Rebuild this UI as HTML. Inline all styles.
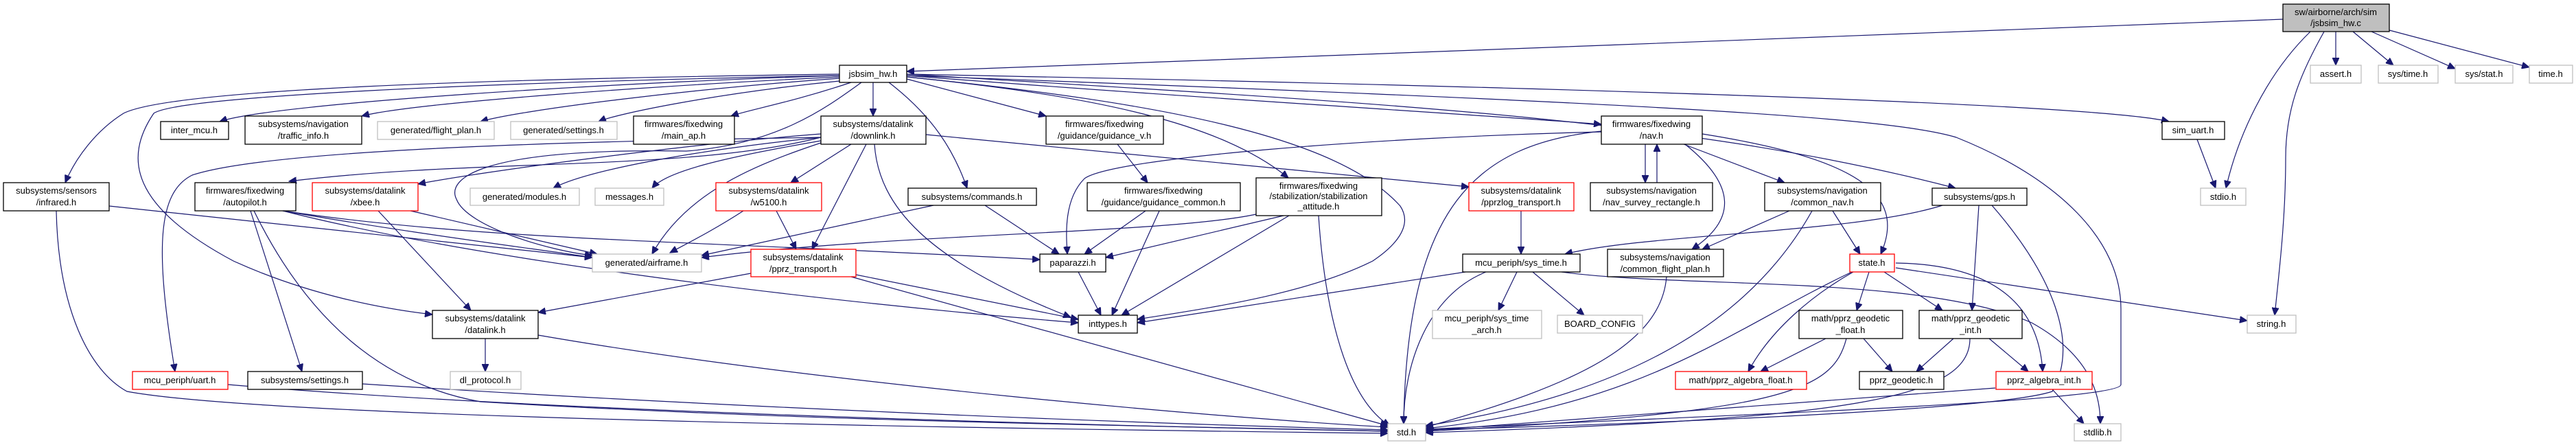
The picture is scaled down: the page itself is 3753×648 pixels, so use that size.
<!DOCTYPE html>
<html><head><meta charset="utf-8"><style>
html,body{margin:0;padding:0;background:#fff;}
svg{display:block;}
text{font-family:"Liberation Sans",sans-serif;font-size:13px;fill:#000;text-anchor:middle;}
.e{fill:none;stroke:#191970;stroke-width:1.2;marker-end:url(#a);}
.n{fill:#fff;stroke:#000;stroke-width:1.3;}
.g{fill:#fff;stroke:#bfbfbf;stroke-width:1.3;}
.r{fill:#fff;stroke:#ff0000;stroke-width:1.3;}
</style></head><body>
<svg width="3753" height="648" viewBox="0 0 3753 648" xmlns="http://www.w3.org/2000/svg">
<defs><marker id="a" markerUnits="userSpaceOnUse" markerWidth="12" markerHeight="10" refX="11" refY="5" orient="auto"><path d="M0,0 L11,5 L0,10 z" fill="#191970" stroke="#191970"/></marker></defs>
<g>
<!-- jsbsim_hw.c -->
<path class="e" d="M3326,28 C2800,50 1800,85 1321,104"/>
<path class="e" d="M3403,46 L3403,95"/>
<path class="e" d="M3428,46 L3487,95"/>
<path class="e" d="M3455,46 L3577,100"/>
<path class="e" d="M3481,44 L3685,98"/>
<path class="e" d="M3366,46 C3300,110 3260,200 3243,274"/>
<path class="e" d="M3386,46 C3350,110 3330,160 3330,230 C3330,320 3320,400 3314,459"/>
<!-- jsbsim_hw.h -->
<path class="e" d="M1223,110 C900,120 400,150 320,177"/>
<path class="e" d="M1223,112 C950,125 600,150 527,169"/>
<path class="e" d="M1223,114 C1000,130 760,160 700,177"/>
<path class="e" d="M1223,118 C1050,135 900,165 872,177"/>
<path class="e" d="M1240,120 C1150,150 1090,160 1065,169"/>
<path class="e" d="M1223,108 C700,115 250,130 180,165 C140,190 110,230 95,266"/>
<path class="e" d="M1223,110 C700,120 260,140 224,165 C180,230 190,300 340,380 C450,430 560,450 630,458"/>
<path class="e" d="M1272,120 L1272,169"/>
<path class="e" d="M1295,120 C1360,170 1390,220 1409,274"/>
<path class="e" d="M1321,115 L1524,169"/>
<path class="e" d="M1321,112 C1600,140 1780,180 1877,259"/>
<path class="e" d="M1321,110 C1700,140 2200,170 2333,181"/>
<path class="e" d="M1321,108 C2000,150 2450,170 2849,274"/>
<path class="e" d="M1321,108 C2200,125 3050,150 3160,177"/>
<path class="e" d="M1321,110 C2400,150 2750,170 2850,200 C3000,260 3090,350 3090,450 L3090,560 C3090,585 2500,605 2077,625"/>
<path class="e" d="M1321,112 C1700,150 1950,200 2040,300 C2060,330 2030,360 2000,380 C1900,430 1750,450 1657,465"/>
<path class="e" d="M1255,120 C1200,160 1130,210 1000,220 C700,215 650,260 665,290 C680,330 800,365 863,372"/>
<!-- downlink.h -->
<path class="e" d="M1240,210 L1152,266"/>
<path class="e" d="M1262,210 L1183,363"/>
<path class="e" d="M1274,210 C1280,300 1350,380 1560,462"/>
<path class="e" d="M1349,196 C1700,230 2000,260 2140,272"/>
<path class="e" d="M1196,208 C1100,240 1000,280 950,370"/>
<path class="e" d="M1196,200 C1000,220 850,250 806,274"/>
<path class="e" d="M1196,205 C1050,230 970,250 950,274"/>
<path class="e" d="M1196,195 C1000,210 700,250 609,268"/>
<path class="e" d="M1196,200 C1000,250 700,230 421,264"/>
<path class="e" d="M1196,200 C900,205 400,215 280,255 C230,280 225,360 255,541"/>
<!-- autopilot -->
<path class="e" d="M365,307 L440,541"/>
<path class="e" d="M370,307 C450,470 560,560 700,585 C1200,615 1700,620 2022,628"/>
<path class="e" d="M412,307 C600,340 800,365 863,375"/>
<path class="e" d="M412,307 C700,380 1200,440 1571,470"/>
<path class="e" d="M412,307 C700,350 1000,350 1515,378"/>
<!-- infrared -->
<path class="e" d="M159,300 L863,375"/>
<path class="e" d="M82,307 C85,450 130,540 185,570 C400,610 1500,625 2022,631"/>
<!-- xbee / w5100 -->
<path class="e" d="M551,307 L686,452"/>
<path class="e" d="M598,307 L870,370"/>
<path class="e" d="M1131,307 L1160,363"/>
<path class="e" d="M1083,307 C1040,335 1000,355 976,368"/>
<!-- pprz_transport -->
<path class="e" d="M1094,398 L784,455"/>
<path class="e" d="M1247,400 L1571,465"/>
<path class="e" d="M1240,403 L2022,620"/>
<!-- commands, guidance, stabilization -->
<path class="e" d="M1360,299 L1022,372"/>
<path class="e" d="M1435,299 L1543,370"/>
<path class="e" d="M1628,210 L1672,266"/>
<path class="e" d="M1669,307 L1580,370"/>
<path class="e" d="M1689,307 L1620,459"/>
<path class="e" d="M1870,314 L1611,375"/>
<path class="e" d="M1878,314 L1634,459"/>
<path class="e" d="M1921,314 C1930,450 1960,580 2025,620"/>
<path class="e" d="M1830,312 C1700,340 1300,340 1022,375"/>
<path class="e" d="M1571,396 L1604,459"/>
<!-- nav.h -->
<path class="e" d="M2397,210 L2397,266"/>
<path class="e" d="M2414,266 L2414,210"/>
<path class="e" d="M2453,210 L2600,266"/>
<path class="e" d="M2455,210 C2530,270 2530,320 2465,363"/>
<path class="e" d="M2480,195 C2700,230 2780,280 2740,370"/>
<path class="e" d="M2333,191 C2150,210 2050,300 2045,617"/>
<path class="e" d="M2333,192 C2000,200 1620,230 1580,260 C1550,290 1553,340 1555,370"/>
<!-- common_nav -->
<path class="e" d="M2607,307 L2480,363"/>
<path class="e" d="M2670,307 L2710,370"/>
<path class="e" d="M2640,307 C2560,450 2400,570 2077,620"/>
<path class="e" d="M2216,307 L2216,370"/>
<!-- gps -->
<path class="e" d="M2830,299 C2700,340 2400,340 2280,370"/>
<path class="e" d="M2883,299 L2873,452"/>
<path class="e" d="M2902,299 C2990,400 3030,500 2990,570 C2900,600 2300,620 2077,626"/>
<!-- sys_time -->
<path class="e" d="M2210,396 L2183,452"/>
<path class="e" d="M2233,396 L2308,459"/>
<path class="e" d="M2165,396 C2080,430 2045,530 2045,617"/>
<path class="e" d="M2135,396 L1657,470"/>
<path class="e" d="M2275,396 C2450,420 2800,400 2960,470 C3050,520 3060,580 3060,617"/>
<path class="e" d="M2428,403 C2420,500 2300,560 2077,622"/>
<!-- state -->
<path class="e" d="M2723,396 L2705,452"/>
<path class="e" d="M2745,396 L2830,452"/>
<path class="e" d="M2700,396 C2640,430 2580,480 2547,541"/>
<path class="e" d="M2762,383 C2900,385 2970,440 2976,541"/>
<path class="e" d="M2698,396 C2520,480 2400,590 2077,624"/>
<path class="e" d="M2762,390 L3274,467"/>
<!-- geodetic -->
<path class="e" d="M2660,493 L2565,541"/>
<path class="e" d="M2715,493 L2757,541"/>
<path class="e" d="M2690,493 C2670,570 2600,600 2077,628"/>
<path class="e" d="M2846,493 L2792,541"/>
<path class="e" d="M2898,493 L2955,541"/>
<path class="e" d="M2870,493 C2870,580 2700,610 2077,630"/>
<path class="e" d="M2990,567 L3036,617"/>
<path class="e" d="M2907,565 L2077,627"/>
<!-- misc -->
<path class="e" d="M3201,203 L3228,274"/>
<path class="e" d="M707,493 L707,541"/>
<path class="e" d="M784,488 C1200,560 1800,610 2022,622"/>
<path class="e" d="M332,560 C800,600 1600,620 2022,628"/>
<path class="e" d="M528,559 C1000,590 1600,615 2022,626"/>
</g>
<g>
<rect x="3326" y="6" width="155" height="40" fill="#bfbfbf" stroke="#000" stroke-width="1.3"/><text x="3403" y="22">sw/airborne/arch/sim</text><text x="3403" y="38">/jsbsim_hw.c</text>
<rect class="g" x="3366" y="95" width="74" height="26"/><text x="3403" y="112">assert.h</text>
<rect class="g" x="3465" y="95" width="87" height="26"/><text x="3508" y="112">sys/time.h</text>
<rect class="g" x="3577" y="95" width="84" height="26"/><text x="3619" y="112">sys/stat.h</text>
<rect class="g" x="3685" y="95" width="63" height="26"/><text x="3716" y="112">time.h</text>
<rect class="n" x="3150" y="177" width="91" height="26"/><text x="3195" y="194">sim_uart.h</text>
<rect class="g" x="3206" y="274" width="66" height="25"/><text x="3239" y="291">stdio.h</text>
<rect class="g" x="3274" y="459" width="71" height="26"/><text x="3309" y="476">string.h</text>
<rect class="g" x="3022" y="617" width="68" height="25"/><text x="3056" y="634">stdlib.h</text>

<rect class="n" x="1223" y="95" width="98" height="25"/><text x="1272" y="112">jsbsim_hw.h</text>
<rect class="n" x="234" y="177" width="99" height="26"/><text x="283" y="194">inter_mcu.h</text>
<rect class="n" x="357" y="169" width="170" height="41"/><text x="442" y="185">subsystems/navigation</text><text x="442" y="202">/traffic_info.h</text>
<rect class="g" x="550" y="177" width="170" height="26"/><text x="635" y="194">generated/flight_plan.h</text>
<rect class="g" x="744" y="177" width="155" height="26"/><text x="821" y="194">generated/settings.h</text>
<rect class="n" x="923" y="169" width="147" height="41"/><text x="996" y="185">firmwares/fixedwing</text><text x="996" y="202">/main_ap.h</text>
<rect class="n" x="1196" y="169" width="153" height="41"/><text x="1272" y="185">subsystems/datalink</text><text x="1272" y="202">/downlink.h</text>
<rect class="n" x="1524" y="169" width="171" height="41"/><text x="1609" y="185">firmwares/fixedwing</text><text x="1609" y="202">/guidance/guidance_v.h</text>
<rect class="n" x="2333" y="169" width="147" height="41"/><text x="2406" y="185">firmwares/fixedwing</text><text x="2406" y="202">/nav.h</text>

<rect class="n" x="5" y="266" width="154" height="41"/><text x="82" y="282">subsystems/sensors</text><text x="82" y="299">/infrared.h</text>
<rect class="n" x="284" y="266" width="147" height="41"/><text x="357" y="282">firmwares/fixedwing</text><text x="357" y="299">/autopilot.h</text>
<rect class="r" x="455" y="266" width="154" height="41"/><text x="532" y="282">subsystems/datalink</text><text x="532" y="299">/xbee.h</text>
<rect class="g" x="685" y="274" width="159" height="25"/><text x="764" y="291">generated/modules.h</text>
<rect class="g" x="867" y="274" width="100" height="25"/><text x="917" y="291">messages.h</text>
<rect class="r" x="1043" y="266" width="154" height="41"/><text x="1120" y="282">subsystems/datalink</text><text x="1120" y="299">/w5100.h</text>
<rect class="n" x="1323" y="274" width="187" height="25"/><text x="1416" y="291">subsystems/commands.h</text>
<rect class="n" x="1584" y="266" width="223" height="41"/><text x="1695" y="282">firmwares/fixedwing</text><text x="1695" y="299">/guidance/guidance_common.h</text>
<rect class="n" x="1830" y="259" width="183" height="55"/><text x="1921" y="275">firmwares/fixedwing</text><text x="1921" y="290">/stabilization/stabilization</text><text x="1921" y="305">_attitude.h</text>
<rect class="r" x="2140" y="266" width="153" height="41"/><text x="2216" y="282">subsystems/datalink</text><text x="2216" y="299">/pprzlog_transport.h</text>
<rect class="n" x="2317" y="266" width="178" height="41"/><text x="2406" y="282">subsystems/navigation</text><text x="2406" y="299">/nav_survey_rectangle.h</text>
<rect class="n" x="2571" y="266" width="169" height="41"/><text x="2655" y="282">subsystems/navigation</text><text x="2655" y="299">/common_nav.h</text>
<rect class="n" x="2815" y="274" width="138" height="25"/><text x="2884" y="291">subsystems/gps.h</text>

<rect class="g" x="863" y="370" width="159" height="26"/><text x="942" y="387">generated/airframe.h</text>
<rect class="r" x="1094" y="363" width="153" height="40"/><text x="1170" y="379">subsystems/datalink</text><text x="1170" y="396">/pprz_transport.h</text>
<rect class="n" x="1515" y="370" width="96" height="26"/><text x="1563" y="387">paparazzi.h</text>
<rect class="n" x="2131" y="370" width="171" height="26"/><text x="2216" y="387">mcu_periph/sys_time.h</text>
<rect class="n" x="2342" y="363" width="169" height="40"/><text x="2426" y="379">subsystems/navigation</text><text x="2426" y="396">/common_flight_plan.h</text>
<rect class="r" x="2695" y="370" width="65" height="26"/><text x="2727" y="387">state.h</text>

<rect class="n" x="630" y="452" width="154" height="41"/><text x="707" y="468">subsystems/datalink</text><text x="707" y="485">/datalink.h</text>
<rect class="n" x="1571" y="459" width="86" height="26"/><text x="1614" y="476">inttypes.h</text>
<rect class="g" x="2087" y="452" width="159" height="41"/><text x="2166" y="468">mcu_periph/sys_time</text><text x="2166" y="485">_arch.h</text>
<rect class="g" x="2269" y="459" width="124" height="26"/><text x="2331" y="476">BOARD_CONFIG</text>
<rect class="n" x="2621" y="452" width="151" height="41"/><text x="2696" y="468">math/pprz_geodetic</text><text x="2696" y="485">_float.h</text>
<rect class="n" x="2796" y="452" width="150" height="41"/><text x="2871" y="468">math/pprz_geodetic</text><text x="2871" y="485">_int.h</text>

<rect class="r" x="193" y="541" width="139" height="26"/><text x="262" y="558">mcu_periph/uart.h</text>
<rect class="n" x="361" y="541" width="167" height="26"/><text x="444" y="558">subsystems/settings.h</text>
<rect class="g" x="656" y="541" width="103" height="26"/><text x="707" y="558">dl_protocol.h</text>
<rect class="r" x="2441" y="541" width="191" height="26"/><text x="2536" y="558">math/pprz_algebra_float.h</text>
<rect class="n" x="2709" y="541" width="123" height="26"/><text x="2770" y="558">pprz_geodetic.h</text>
<rect class="r" x="2908" y="541" width="140" height="26"/><text x="2978" y="558">pprz_algebra_int.h</text>
<rect class="g" x="2022" y="617" width="55" height="25"/><text x="2049" y="634">std.h</text>
</g>
</svg>
</body></html>
